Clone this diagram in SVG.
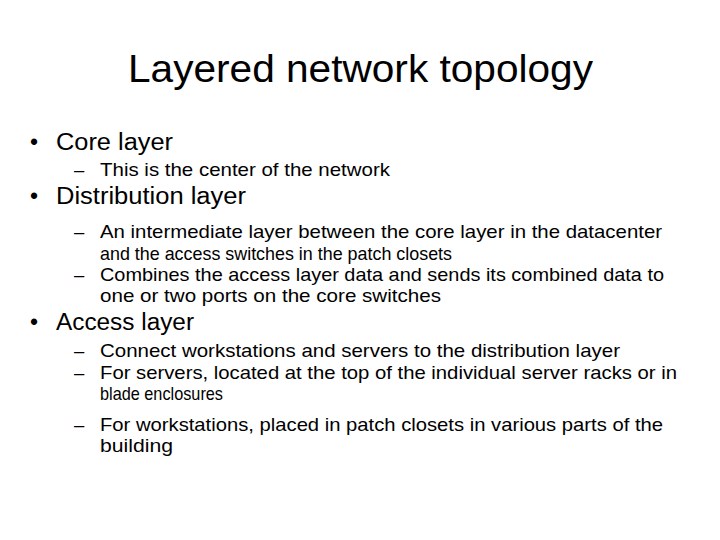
<svg xmlns="http://www.w3.org/2000/svg" width="720" height="540" viewBox="0 0 720 540">
<style>
text{font-family:"Liberation Sans",Arial,sans-serif;fill:#000}
.t{font-size:38px}
.b{font-size:23px}
.s{font-size:18.5px}
</style>
<rect width="720" height="540" fill="#fff"/>
<text class="t" x="128" y="82" textLength="465" lengthAdjust="spacingAndGlyphs">Layered network topology</text>
<g class="b">
<text class="b" x="30" y="150">•</text><text class="b" x="56" y="150" textLength="117" lengthAdjust="spacingAndGlyphs">Core layer</text>
<text class="b" x="30" y="204">•</text><text class="b" x="56" y="204" textLength="190" lengthAdjust="spacingAndGlyphs">Distribution layer</text>
<text class="b" x="30" y="330">•</text><text class="b" x="56" y="330" textLength="138" lengthAdjust="spacingAndGlyphs">Access layer</text>
</g>
<g>
<text class="s" x="74" y="176">–</text><text class="s" x="100" y="176" textLength="290" lengthAdjust="spacingAndGlyphs">This is the center of the network</text>
<text class="s" x="74" y="238">–</text><text class="s" x="100" y="238" textLength="562" lengthAdjust="spacingAndGlyphs">An intermediate layer between the core layer in the datacenter</text>
<text class="s" x="100" y="260" textLength="352" lengthAdjust="spacingAndGlyphs">and the access switches in the patch closets</text>
<text class="s" x="74" y="281">–</text><text class="s" x="100" y="281" textLength="564" lengthAdjust="spacingAndGlyphs">Combines the access layer data and sends its combined data to</text>
<text class="s" x="100" y="302" textLength="341" lengthAdjust="spacingAndGlyphs">one or two ports on the core switches</text>
<text class="s" x="74" y="357">–</text><text class="s" x="100" y="357" textLength="520" lengthAdjust="spacingAndGlyphs">Connect workstations and servers to the distribution layer</text>
<text class="s" x="74" y="379">–</text><text class="s" x="100" y="379" textLength="577" lengthAdjust="spacingAndGlyphs">For servers, located at the top of the individual server racks or in</text>
<text class="s" x="100" y="400" textLength="123" lengthAdjust="spacingAndGlyphs">blade enclosures</text>
<text class="s" x="74" y="431">–</text><text class="s" x="100" y="431" textLength="563" lengthAdjust="spacingAndGlyphs">For workstations, placed in patch closets in various parts of the</text>
<text class="s" x="100" y="452" textLength="73" lengthAdjust="spacingAndGlyphs">building</text>
</g>
</svg>
